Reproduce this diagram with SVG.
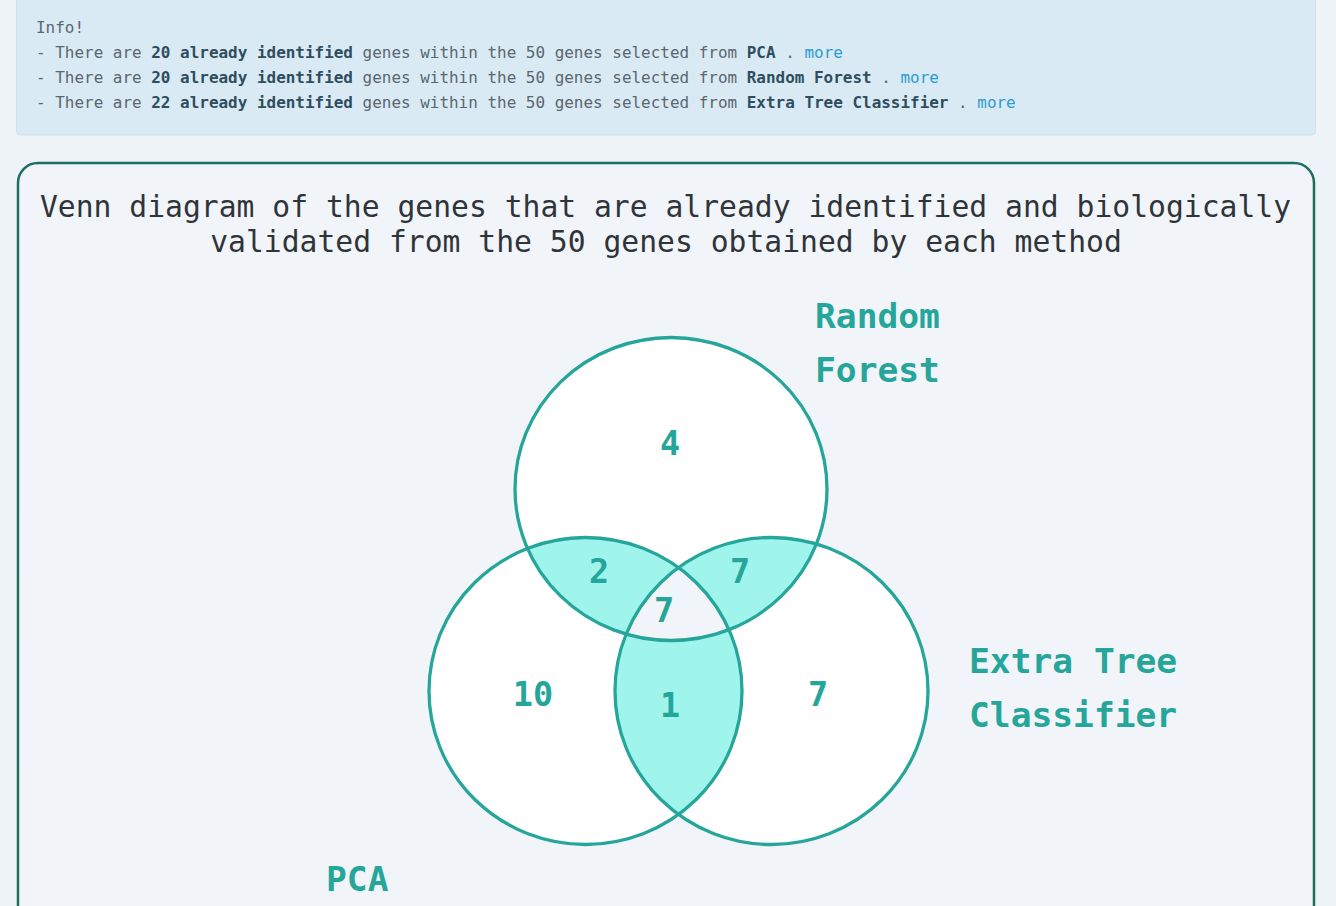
<svg xmlns="http://www.w3.org/2000/svg" width="1336" height="906" viewBox="0 0 1336 906">
<style>
.info{font-family:"DejaVu Sans Mono","Liberation Mono",monospace;font-size:15.96px;fill:#5a6670}
.b{font-weight:bold;fill:#2e4d5e}
.lk{fill:#2e9bd0}
.title{font-family:"DejaVu Sans Mono","Liberation Mono",monospace;font-size:29.7px;fill:#2f3438}
.lbl{font-family:"DejaVu Sans Mono","Liberation Mono",monospace;font-size:34.6px;font-weight:bold;fill:#26a69a}
.num{font-family:"DejaVu Sans Mono","Liberation Mono",monospace;font-size:33.5px;font-weight:bold;fill:#26a69a;text-anchor:middle}
.ring{fill:none;stroke:#26a69a;stroke-width:3.3}
</style>
<defs>
<ellipse id="eRF" cx="671" cy="489" rx="156" ry="151.5"/>
<ellipse id="ePCA" cx="585.5" cy="691" rx="156.5" ry="153.5"/>
<ellipse id="eETC" cx="771.5" cy="691" rx="156.5" ry="153.5"/>
<clipPath id="cRF"><use href="#eRF"/></clipPath>
<clipPath id="cPCA"><use href="#ePCA"/></clipPath>
<clipPath id="cETC"><use href="#eETC"/></clipPath>
</defs>
<rect x="0" y="0" width="1336" height="906" fill="#eef3f7"/>
<g id="info">
<rect x="16.5" y="-10" width="1299" height="145" rx="4" fill="#d9eaf4" stroke="#cde2ee" stroke-width="1"/>
<text class="info" x="36" y="33">Info!</text>
<text class="info" x="36" y="58" xml:space="preserve">- There are <tspan class="b">20 already identified</tspan> genes within the 50 genes selected from <tspan class="b">PCA</tspan> . <tspan class="lk">more</tspan></text>
<text class="info" x="36" y="83" xml:space="preserve">- There are <tspan class="b">20 already identified</tspan> genes within the 50 genes selected from <tspan class="b">Random Forest</tspan> . <tspan class="lk">more</tspan></text>
<text class="info" x="36" y="108" xml:space="preserve">- There are <tspan class="b">22 already identified</tspan> genes within the 50 genes selected from <tspan class="b">Extra Tree Classifier</tspan> . <tspan class="lk">more</tspan></text>
</g>
<g id="card">
<rect x="18" y="163" width="1296" height="800" rx="20" fill="#f1f5f9" stroke="#1d6d64" stroke-width="2.5"/>
<text class="title" x="665.5" y="217" text-anchor="middle">Venn diagram of the genes that are already identified and biologically</text>
<text class="title" x="666" y="252" text-anchor="middle">validated from the 50 genes obtained by each method</text>
</g>
<g id="venn">
<use href="#eRF" fill="#ffffff"/>
<use href="#ePCA" fill="#ffffff"/>
<use href="#eETC" fill="#ffffff"/>
<g clip-path="url(#cRF)"><use href="#ePCA" fill="#9ff5ec"/><use href="#eETC" fill="#9ff5ec"/></g>
<g clip-path="url(#cPCA)"><use href="#eETC" fill="#9ff5ec"/></g>
<g clip-path="url(#cRF)"><g clip-path="url(#cPCA)"><use href="#eETC" fill="#f1f5f9"/></g></g>
</g>
<g id="node-rf">
<use href="#eRF" class="ring"/>
<text class="lbl" x="815" y="328">Random</text>
<text class="lbl" x="815" y="382">Forest</text>
</g>
<g id="node-pca">
<use href="#ePCA" class="ring"/>
<text class="lbl" x="326" y="891">PCA</text>
</g>
<g id="node-etc">
<use href="#eETC" class="ring"/>
<text class="lbl" x="969" y="673">Extra Tree</text>
<text class="lbl" x="969" y="727">Classifier</text>
</g>
<g id="counts">
<text class="num" x="670" y="455">4</text>
<text class="num" x="599" y="583">2</text>
<text class="num" x="740" y="583">7</text>
<text class="num" x="664" y="622">7</text>
<text class="num" x="533" y="706">10</text>
<text class="num" x="670" y="717">1</text>
<text class="num" x="818" y="706">7</text>
</g>
</svg>
